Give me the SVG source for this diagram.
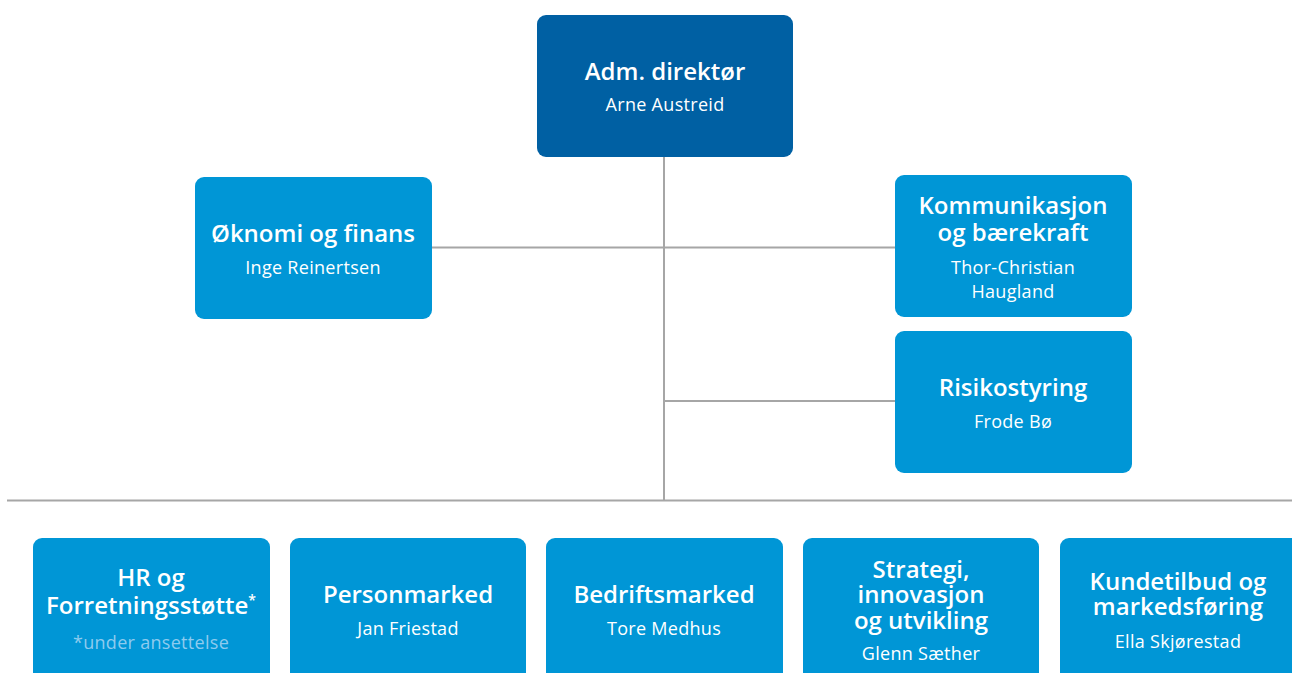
<svg xmlns="http://www.w3.org/2000/svg" width="1292" height="673" viewBox="0 0 1292 673">
  <style>
    .box { fill: #0096d6; }
    .top { fill: #0060a3; }
    .t { font-family: "Open Sans", Lato, sans-serif; font-weight: 600; font-size: 24px; fill: #ffffff; text-anchor: middle; }
    .s { font-family: "Open Sans", Lato, sans-serif; font-weight: 400; font-size: 18px; letter-spacing: 0.3px; fill: #ffffff; text-anchor: middle; }
    .note { fill: #8ecbee; }
    .line { stroke: #a6a6a6; stroke-width: 2; fill: none; }
  </style>
  <rect width="1292" height="673" fill="#ffffff"/>

  <g id="connectors">
    <line class="line" x1="664" y1="157" x2="664" y2="500"/>
    <line class="line" x1="432" y1="247.5" x2="895" y2="247.5"/>
    <line class="line" x1="664" y1="401" x2="895" y2="401"/>
    <line class="line" x1="7" y1="500.5" x2="1292" y2="500.5"/>
  </g>

  <g id="adm">
    <rect class="top" x="537" y="15" width="256" height="142" rx="9"/>
    <text class="t" x="665" y="80">Adm. direktør</text>
    <text class="s" x="665" y="111">Arne Austreid</text>
  </g>

  <g id="okonomi">
    <rect class="box" x="195" y="177" width="237" height="142" rx="9"/>
    <text class="t" x="313" y="242">Øknomi og finans</text>
    <text class="s" x="313" y="274">Inge Reinertsen</text>
  </g>

  <g id="kommunikasjon">
    <rect class="box" x="895" y="175" width="237" height="142" rx="9"/>
    <text class="t" x="1013" y="214">Kommunikasjon<tspan x="1013" dy="27">og bærekraft</tspan></text>
    <text class="s" x="1013" y="274">Thor-Christian<tspan x="1013" dy="24">Haugland</tspan></text>
  </g>

  <g id="risiko">
    <rect class="box" x="895" y="331" width="237" height="142" rx="9"/>
    <text class="t" x="1013" y="396">Risikostyring</text>
    <text class="s" x="1013" y="428">Frode Bø</text>
  </g>

  <g id="hr">
    <rect class="box" x="33" y="538" width="237" height="150" rx="9"/>
    <text class="t" x="151" y="586">HR og<tspan x="151" dy="28">Forretningsstøtte<tspan font-size="14" dy="-9">*</tspan></tspan></text>
    <text class="s note" x="151" y="649">*under ansettelse</text>
  </g>

  <g id="personmarked">
    <rect class="box" x="290" y="538" width="236" height="150" rx="9"/>
    <text class="t" x="408" y="603">Personmarked</text>
    <text class="s" x="408" y="635">Jan Friestad</text>
  </g>

  <g id="bedriftsmarked">
    <rect class="box" x="546" y="538" width="237" height="150" rx="9"/>
    <text class="t" x="664" y="603">Bedriftsmarked</text>
    <text class="s" x="664" y="635">Tore Medhus</text>
  </g>

  <g id="strategi">
    <rect class="box" x="803" y="538" width="236" height="150" rx="9"/>
    <text class="t" x="921" y="578">Strategi,<tspan x="921" dy="25">innovasjon</tspan><tspan x="921" dy="26">og utvikling</tspan></text>
    <text class="s" x="921" y="660">Glenn Sæther</text>
  </g>

  <g id="kundetilbud">
    <rect class="box" x="1060" y="538" width="240" height="150" rx="9"/>
    <text class="t" x="1178" y="590">Kundetilbud og<tspan x="1178" dy="25">markedsføring</tspan></text>
    <text class="s" x="1178" y="648">Ella Skjørestad</text>
  </g>
</svg>
